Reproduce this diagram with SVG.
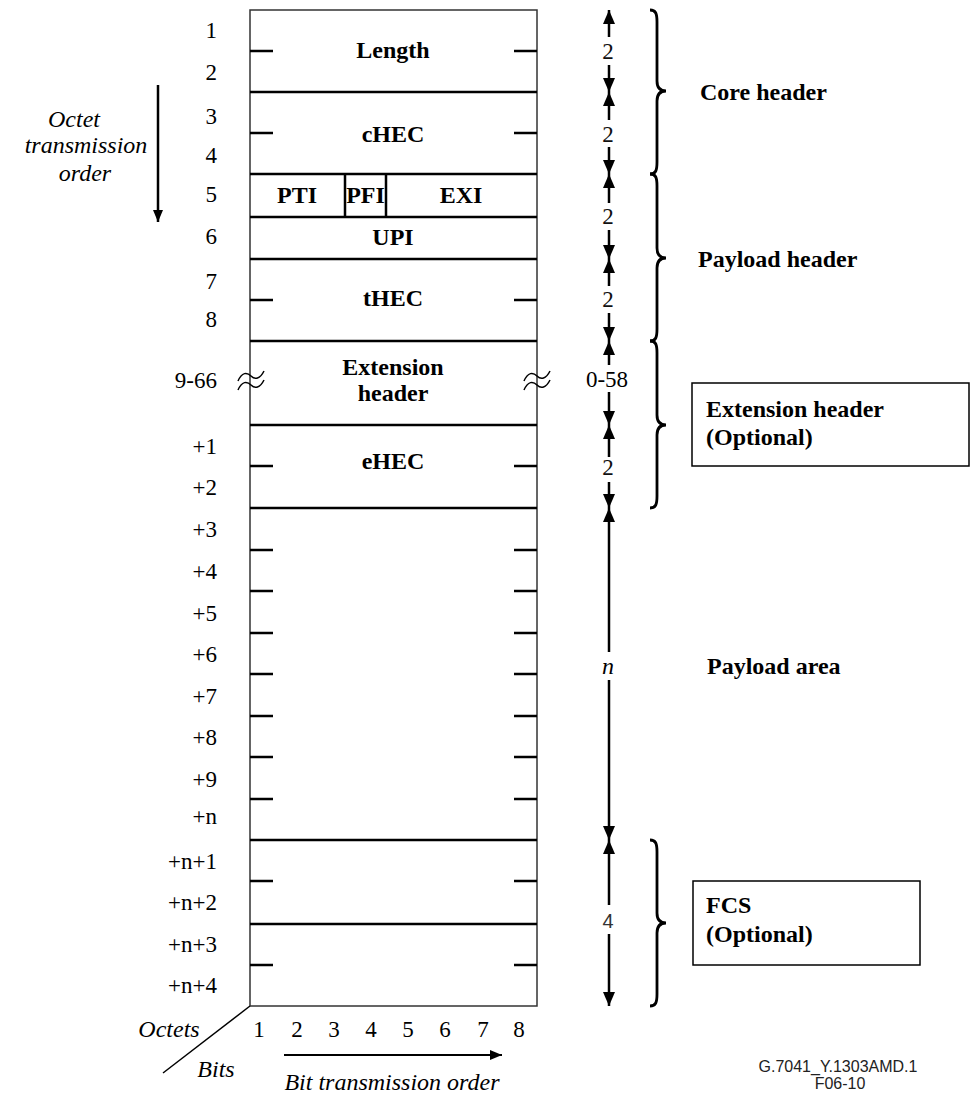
<svg xmlns="http://www.w3.org/2000/svg" width="971" height="1093" viewBox="0 0 971 1093">
<style>
text{font-family:"Liberation Serif","Times New Roman","DejaVu Serif",serif}
.b{font-weight:bold;font-size:24px;fill:#000}
.r{font-size:23px;fill:#000}
.it{font-style:italic;font-size:24px;fill:#000}
.q{font-size:23px;fill:#111}
.num{font-size:23px;fill:#000;text-anchor:end}
.mid{text-anchor:middle}
.div{stroke:#000;stroke-width:2.5;fill:none}
.frame{stroke:#333;stroke-width:1.5;fill:none}
.arr{stroke:#000;stroke-width:2.5;fill:none;marker-end:url(#ah)}
.thin{stroke:#000;stroke-width:1.5;fill:none}
.brace{stroke:#000;stroke-width:2.8;fill:none}
.box{stroke:#000;stroke-width:1.5;fill:none}
text.tag{font-family:"Liberation Sans",Arial,sans-serif;font-size:16px;fill:#222;text-anchor:middle}
text.sans{font-family:"Liberation Sans",Arial,sans-serif;font-size:20px;fill:#333}
</style>
<defs>
<marker id="ah" viewBox="0 0 14 12" refX="14" refY="6" markerWidth="14" markerHeight="12" markerUnits="userSpaceOnUse" orient="auto"><path d="M0,0 L14,6 L0,12 z" fill="#000"/></marker>
<marker id="ahs" viewBox="0 0 12 10" refX="12" refY="5" markerWidth="12" markerHeight="10" markerUnits="userSpaceOnUse" orient="auto"><path d="M0,0 L12,5 L0,10 z" fill="#000"/></marker>
</defs>
<rect width="971" height="1093" fill="#fff"/>

<g id="frame">
<rect x="250" y="10" width="287" height="996" class="frame"/>
<path class="div" d="M250,92H537M250,174H537M250,217H537M250,259H537M250,341H537M250,425H537M250,508H537M250,840H537M250,924H537M345,174V217M386,174V217"/>
<path class="div" d="M250,51H273M514,51H537M250,133H273M514,133H537M250,300H273M514,300H537M250,466H273M514,466H537M250,550H273M514,550H537M250,591H273M514,591H537M250,633H273M514,633H537M250,674H273M514,674H537M250,716H273M514,716H537M250,757H273M514,757H537M250,799H273M514,799H537M250,881H273M514,881H537M250,965H273M514,965H537"/>
</g>

<g id="field-length"><text class="b mid" x="393" y="58">Length</text></g>
<g id="field-chec"><text class="b mid" x="393" y="142">cHEC</text></g>
<g id="field-pti"><text class="b mid" x="297" y="203">PTI</text></g>
<g id="field-pfi"><text class="b mid" x="365.5" y="203">PFI</text></g>
<g id="field-exi"><text class="b mid" x="461" y="203">EXI</text></g>
<g id="field-upi"><text class="b mid" x="393" y="245">UPI</text></g>
<g id="field-thec"><text class="b mid" x="393" y="306">tHEC</text></g>
<g id="field-ext"><text class="b mid" x="393" y="375">Extension</text><text class="b mid" x="393" y="401">header</text>
<path class="thin" d="M238,381 C242,372 247,372 251,376 C255,380 260,379 264,371 M238,390 C242,381 247,381 251,385 C255,389 260,388 264,380"/>
<path class="thin" d="M524,381 C528,372 533,372 537,376 C541,380 546,379 550,371 M524,390 C528,381 533,381 537,385 C541,389 546,388 550,380"/>
</g>
<g id="field-ehec"><text class="b mid" x="393" y="469">eHEC</text></g>

<g id="octet-numbers">
<text class="num" x="217" y="38">1</text>
<text class="num" x="217" y="80">2</text>
<text class="num" x="217" y="124">3</text>
<text class="num" x="217" y="163">4</text>
<text class="num" x="217" y="202">5</text>
<text class="num" x="217" y="244">6</text>
<text class="num" x="217" y="289">7</text>
<text class="num" x="217" y="327">8</text>
<text class="num" x="217" y="388">9-66</text>
<text class="num" x="217" y="454">+1</text>
<text class="num" x="217" y="495">+2</text>
<text class="num" x="217" y="537">+3</text>
<text class="num" x="217" y="579">+4</text>
<text class="num" x="217" y="621">+5</text>
<text class="num" x="217" y="662">+6</text>
<text class="num" x="217" y="704">+7</text>
<text class="num" x="217" y="745">+8</text>
<text class="num" x="217" y="787">+9</text>
<text class="num" x="217" y="824">+n</text>
<text class="num" x="217" y="869">+n+1</text>
<text class="num" x="217" y="910">+n+2</text>
<text class="num" x="217" y="952">+n+3</text>
<text class="num" x="217" y="993">+n+4</text>
</g>

<g id="octet-order">
<text class="it mid" x="74" y="127">Octet</text>
<text class="it mid" x="86" y="153">transmission</text>
<text class="it mid" x="85" y="181">order</text>
<line x1="158" y1="85" x2="158" y2="222" stroke="#000" stroke-width="2.5" marker-end="url(#ahs)"/>
</g>

<g id="connectors">
<line class="arr" x1="609" y1="37" x2="609" y2="10"/><line class="arr" x1="609" y1="65" x2="609" y2="92"/>
<line class="arr" x1="609" y1="120" x2="609" y2="92"/><line class="arr" x1="609" y1="147" x2="609" y2="174"/>
<line class="arr" x1="609" y1="203" x2="609" y2="174"/><line class="arr" x1="609" y1="230" x2="609" y2="259"/>
<line class="arr" x1="609" y1="286" x2="609" y2="259"/><line class="arr" x1="609" y1="313" x2="609" y2="341"/>
<line class="arr" x1="609" y1="365" x2="609" y2="341"/><line class="arr" x1="609" y1="392" x2="609" y2="425"/>
<line class="arr" x1="609" y1="457" x2="609" y2="425"/><line class="arr" x1="609" y1="482" x2="609" y2="508"/>
<line class="arr" x1="609" y1="652" x2="609" y2="508"/><line class="arr" x1="609" y1="680" x2="609" y2="840"/>
<line class="arr" x1="609" y1="905" x2="609" y2="840"/><line class="arr" x1="609" y1="934" x2="609" y2="1006"/>
</g>

<g id="sizes">
<text class="q mid" x="608" y="59">2</text>
<text class="q mid" x="608" y="142">2</text>
<text class="q mid" x="608" y="224">2</text>
<text class="q mid" x="608" y="307">2</text>
<text class="r mid" x="607" y="387">0-58</text>
<text class="q mid" x="608" y="475">2</text>
<text class="it mid" x="608" y="674">n</text>
<text class="sans mid" x="608" y="928">4</text>
</g>

<g id="braces">
<path class="brace" d="M650,10 C656,10 657,14 657,22 L657,81 C657,88 660,91 666,91 C660,91 657,94 657,101 L657,162 C657,170 656,174 650,174"/>
<path class="brace" d="M650,174 C656,174 657,178 657,186 L657,248 C657,255 660,258 666,258 C660,258 657,261 657,268 L657,329 C657,337 656,341 650,341"/>
<path class="brace" d="M650,341 C656,341 657,345 657,353 L657,415 C657,422 660,425 666,425 C660,425 657,428 657,435 L657,496 C657,504 656,508 650,508"/>
<path class="brace" d="M650,840 C656,840 657,844 657,852 L657,913 C657,920 660,923 666,923 C660,923 657,926 657,933 L657,994 C657,1002 656,1006 650,1006"/>
</g>

<g id="label-core"><text class="b" x="700" y="100">Core header</text></g>
<g id="label-payload-header"><text class="b" x="698" y="267">Payload header</text></g>
<g id="label-ext"><rect class="box" x="692" y="383" width="277" height="83"/><text class="b" x="706" y="417">Extension header</text><text class="b" x="706" y="445">(Optional)</text></g>
<g id="label-payload-area"><text class="b" x="707" y="674">Payload area</text></g>
<g id="label-fcs"><rect class="box" x="693" y="881" width="227" height="84"/><text class="b" x="706" y="913">FCS</text><text class="b" x="706" y="942">(Optional)</text></g>

<g id="axes">
<line x1="250" y1="1006" x2="163" y2="1073" stroke="#000" stroke-width="1.5"/>
<text class="it mid" x="169" y="1037">Octets</text>
<text class="it mid" x="216" y="1077">Bits</text>
<text class="r mid" x="259" y="1037">1</text>
<text class="r mid" x="297" y="1037">2</text>
<text class="r mid" x="334" y="1037">3</text>
<text class="r mid" x="371" y="1037">4</text>
<text class="r mid" x="408" y="1037">5</text>
<text class="r mid" x="445" y="1037">6</text>
<text class="r mid" x="483" y="1037">7</text>
<text class="r mid" x="519" y="1037">8</text>
<line x1="284" y1="1055" x2="502" y2="1055" stroke="#000" stroke-width="2" marker-end="url(#ahs)"/>
<text class="it mid" x="392" y="1090">Bit transmission order</text>
</g>

<g id="figure-id">
<text class="tag" x="838" y="1072">G.7041_Y.1303AMD.1</text>
<text class="tag" x="840" y="1089">F06-10</text>
</g>
</svg>
